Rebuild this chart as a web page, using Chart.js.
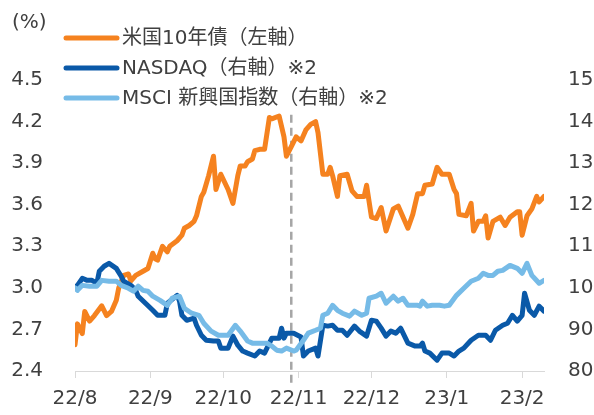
<!DOCTYPE html>
<html><head><meta charset="utf-8">
<script src="https://cdn.jsdelivr.net/npm/chart.js@4"></script>
<style>
html,body{margin:0;padding:0;background:#fff;overflow:hidden;width:594px;height:415px;}
#wrap{position:relative;width:610px;height:415px;}
canvas{display:block;}
</style></head><body>
<div id="wrap"><canvas id="c" width="610" height="415"></canvas></div>
<script>
// axis ticks
const monthStartDays = [0, 31, 61, 92, 122, 153, 184];   // days since 2022-08-01
const monthLabels = ['22/8', '22/9', '22/10', '22/11', '22/12', '23/1', '23/2'];
const leftTicks = [2.4, 2.7, 3.0, 3.3, 3.6, 3.9, 4.2, 4.5];
const rightTicks = [80, 90, 100, 110, 120, 130, 140, 150];
const seriesNames = ['米国10年債（左軸）', 'NASDAQ（右軸）※2', 'MSCI 新興国指数（右軸）※2'];
const unitLabel = '(%)';
const markerDay = 89; // dashed vertical line

// US 10Y yield (%), left axis
const yieldDays = [0,1,3,4,6,8,11,13,15,17,18,20,22,23,25,28,30,32,33,34,36,38,39,42,44,45,47,49,50,52,53,55,56,57,58,60,63,65,67,68,70,71,73,74,76,78,80,81,84,86,87,89,91,93,95,97,99,100,102,104,105,106,108,109,112,114,116,119,120,122,124,126,128,131,133,137,139,141,143,144,147,149,151,154,156,157,158,161,163,164,166,168,169,170,172,175,177,179,182,183,184,186,188,190,191,193];
const yieldVals = [2.59,2.74,2.67,2.83,2.76,2.80,2.87,2.80,2.83,2.91,3.00,3.09,3.10,3.05,3.09,3.12,3.14,3.25,3.21,3.20,3.30,3.26,3.30,3.34,3.38,3.43,3.45,3.48,3.52,3.66,3.69,3.81,3.88,3.95,3.71,3.82,3.71,3.61,3.81,3.88,3.88,3.91,3.93,3.99,4.00,4.00,4.23,4.22,4.24,4.09,3.95,4.02,4.09,4.06,4.14,4.18,4.20,4.12,3.82,3.82,3.87,3.81,3.66,3.81,3.82,3.70,3.66,3.66,3.74,3.51,3.50,3.58,3.41,3.57,3.59,3.43,3.53,3.68,3.68,3.74,3.75,3.87,3.82,3.82,3.71,3.68,3.53,3.52,3.61,3.41,3.48,3.48,3.52,3.36,3.48,3.51,3.45,3.51,3.55,3.55,3.38,3.52,3.57,3.66,3.62,3.66];

// NASDAQ (index), right axis
const nasdaqDays = [0,1,3,5,7,9,10,12,14,17,19,20,23,25,26,29,32,34,37,38,42,43,44,46,49,50,52,54,57,59,60,63,65,67,69,71,74,76,78,81,84,85,86,87,90,93,94,96,99,100,102,104,106,108,110,112,115,117,120,122,124,126,128,130,132,134,136,137,140,142,143,144,146,149,151,154,156,158,160,163,166,169,171,173,176,178,180,182,184,185,187,189,191,193];
const nasdaqVals = [100.0,100.6,102.3,101.8,101.8,101.1,104.0,105.2,105.9,104.7,102.8,101.6,100.6,99.4,98.0,96.3,94.6,93.4,93.4,96.3,98.2,96.8,93.4,92.2,92.7,91.0,88.6,87.4,87.2,87.2,85.5,85.5,88.4,86.2,84.8,84.3,83.6,84.8,84.3,87.9,87.9,90.3,87.9,89.1,89.1,88.2,83.6,84.8,85.5,83.6,91.0,90.8,91.0,89.8,89.8,88.6,90.8,89.6,88.4,92.2,92.0,90.3,88.4,89.6,89.1,90.3,87.9,86.7,86.0,86.0,86.7,84.8,84.3,82.6,84.3,84.3,83.6,84.8,85.5,87.4,88.6,88.6,87.4,89.8,91.0,91.5,93.4,92.0,93.4,98.7,94.6,93.4,95.6,94.4];

// MSCI Emerging Markets (index), right axis
const msciDays = [0,1,3,6,9,11,14,17,19,22,24,26,28,30,32,35,38,40,43,45,48,51,53,56,59,61,63,66,68,71,73,76,79,81,83,85,87,90,91,94,96,99,101,102,104,106,108,110,113,115,118,120,121,124,126,128,131,133,135,137,141,142,143,145,147,150,152,154,157,160,163,166,168,170,172,174,176,179,182,184,186,188,191,193];
const msciVals = [100.0,99.4,100.6,100.4,100.4,101.8,101.6,101.6,100.6,99.9,99.2,100.4,99.4,99.2,98.0,97.0,95.8,97.5,98.0,95.1,93.9,93.4,91.5,89.6,88.6,88.6,88.6,91.0,89.6,87.2,86.7,86.7,86.7,86.0,85.0,84.8,85.5,84.8,85.0,87.4,89.1,89.8,90.3,93.4,93.9,95.8,94.6,93.9,93.2,94.4,93.4,93.9,97.5,98.0,98.7,96.3,98.0,96.8,97.5,95.8,95.8,95.6,96.8,95.6,95.8,95.8,95.6,95.8,98.2,99.9,101.6,102.3,103.5,103.0,103.0,104.0,104.2,105.4,104.7,103.5,105.9,103.0,101.1,101.8];

const FONT = "'DejaVu Sans', 'Noto Sans CJK JP', sans-serif";
const TEXT = '#404040';
const toPts = (days, vals) => days.map((d, i) => ({ x: d, y: vals[i] }));

const overlay = {
  id: 'overlay',
  beforeDatasetsDraw(chart) {
    const { ctx, scales: { x, yL }, chartArea } = chart;
    const px = x.getPixelForValue(markerDay);
    ctx.save();
    ctx.strokeStyle = '#a6a6a6';
    ctx.lineWidth = 2.5;
    ctx.setLineDash([8, 5]);
    ctx.beginPath();
    ctx.moveTo(px, yL.getPixelForValue(4.25));
    ctx.lineTo(px, chartArea.bottom + 14);
    ctx.stroke();
    ctx.restore();
  },
  afterDraw(chart) {
    const { ctx } = chart;
    ctx.save();
    ctx.font = '20px ' + FONT;
    ctx.fillStyle = TEXT;
    ctx.textBaseline = 'middle';
    ctx.textAlign = 'left';
    ctx.fillText(unitLabel, 12, 23);
    chart.data.datasets.forEach((ds, i) => {
      const y = 38 + i * 30;
      ctx.strokeStyle = ds.borderColor;
      ctx.lineWidth = 5;
      ctx.lineCap = 'round';
      ctx.beginPath();
      ctx.moveTo(66, y);
      ctx.lineTo(117, y);
      ctx.stroke();
      ctx.fillStyle = TEXT;
      ctx.fillText(ds.label, 122, y + 1);
    });
    ctx.restore();
  }
};

const lineStyle = { pointRadius: 0, borderWidth: 5, tension: 0, borderJoinStyle: 'round', borderCapStyle: 'round', fill: false };

new Chart(document.getElementById('c'), {
  type: 'line',
  data: {
    datasets: [
      Object.assign({ label: seriesNames[0], data: toPts(yieldDays, yieldVals), borderColor: '#f5821f', yAxisID: 'yL', order: 3 }, lineStyle),
      Object.assign({ label: seriesNames[1], data: toPts(nasdaqDays, nasdaqVals), borderColor: '#0a59a8', yAxisID: 'yR', order: 2 }, lineStyle),
      Object.assign({ label: seriesNames[2], data: toPts(msciDays, msciVals), borderColor: '#76bbe7', yAxisID: 'yR', order: 1 }, lineStyle)
    ]
  },
  options: {
    responsive: false,
    animation: false,
    devicePixelRatio: 1,
    layout: { padding: { top: 80, left: 0, right: 0, bottom: 0 } },
    plugins: { legend: { display: false }, tooltip: { enabled: false } },
    scales: {
      x: {
        type: 'linear', min: 0, max: 193,
        afterBuildTicks(s) { s.ticks = monthStartDays.map(v => ({ value: v })); },
        afterFit(s) { s.height = 41; },
        ticks: { autoSkip: false, maxRotation: 0, padding: 9, color: TEXT, font: { family: FONT, size: 20 },
          callback: (v) => monthLabels[monthStartDays.indexOf(v)] },
        grid: { display: true, drawOnChartArea: false, drawTicks: true, tickLength: 7, color: '#d9d9d9', lineWidth: 1 },
        border: { display: true, color: '#d9d9d9', width: 1 }
      },
      yL: {
        position: 'left', min: 2.4, max: 4.5,
        afterBuildTicks(s) { s.ticks = leftTicks.map(v => ({ value: v })); },
        afterFit(s) { s.width = 75; },
        ticks: { padding: 32, color: TEXT, font: { family: FONT, size: 20 }, callback: (v) => Number(v).toFixed(1) },
        grid: { display: false, drawTicks: false },
        border: { display: false }
      },
      yR: {
        position: 'right', min: 80, max: 150,
        afterBuildTicks(s) { s.ticks = rightTicks.map(v => ({ value: v })); },
        afterFit(s) { s.width = 66; },
        ticks: { padding: 24, color: TEXT, font: { family: FONT, size: 20 }, callback: (v) => String(v) },
        grid: { display: false, drawTicks: false },
        border: { display: false }
      }
    }
  },
  plugins: [overlay]
});
</script>
</body></html>
